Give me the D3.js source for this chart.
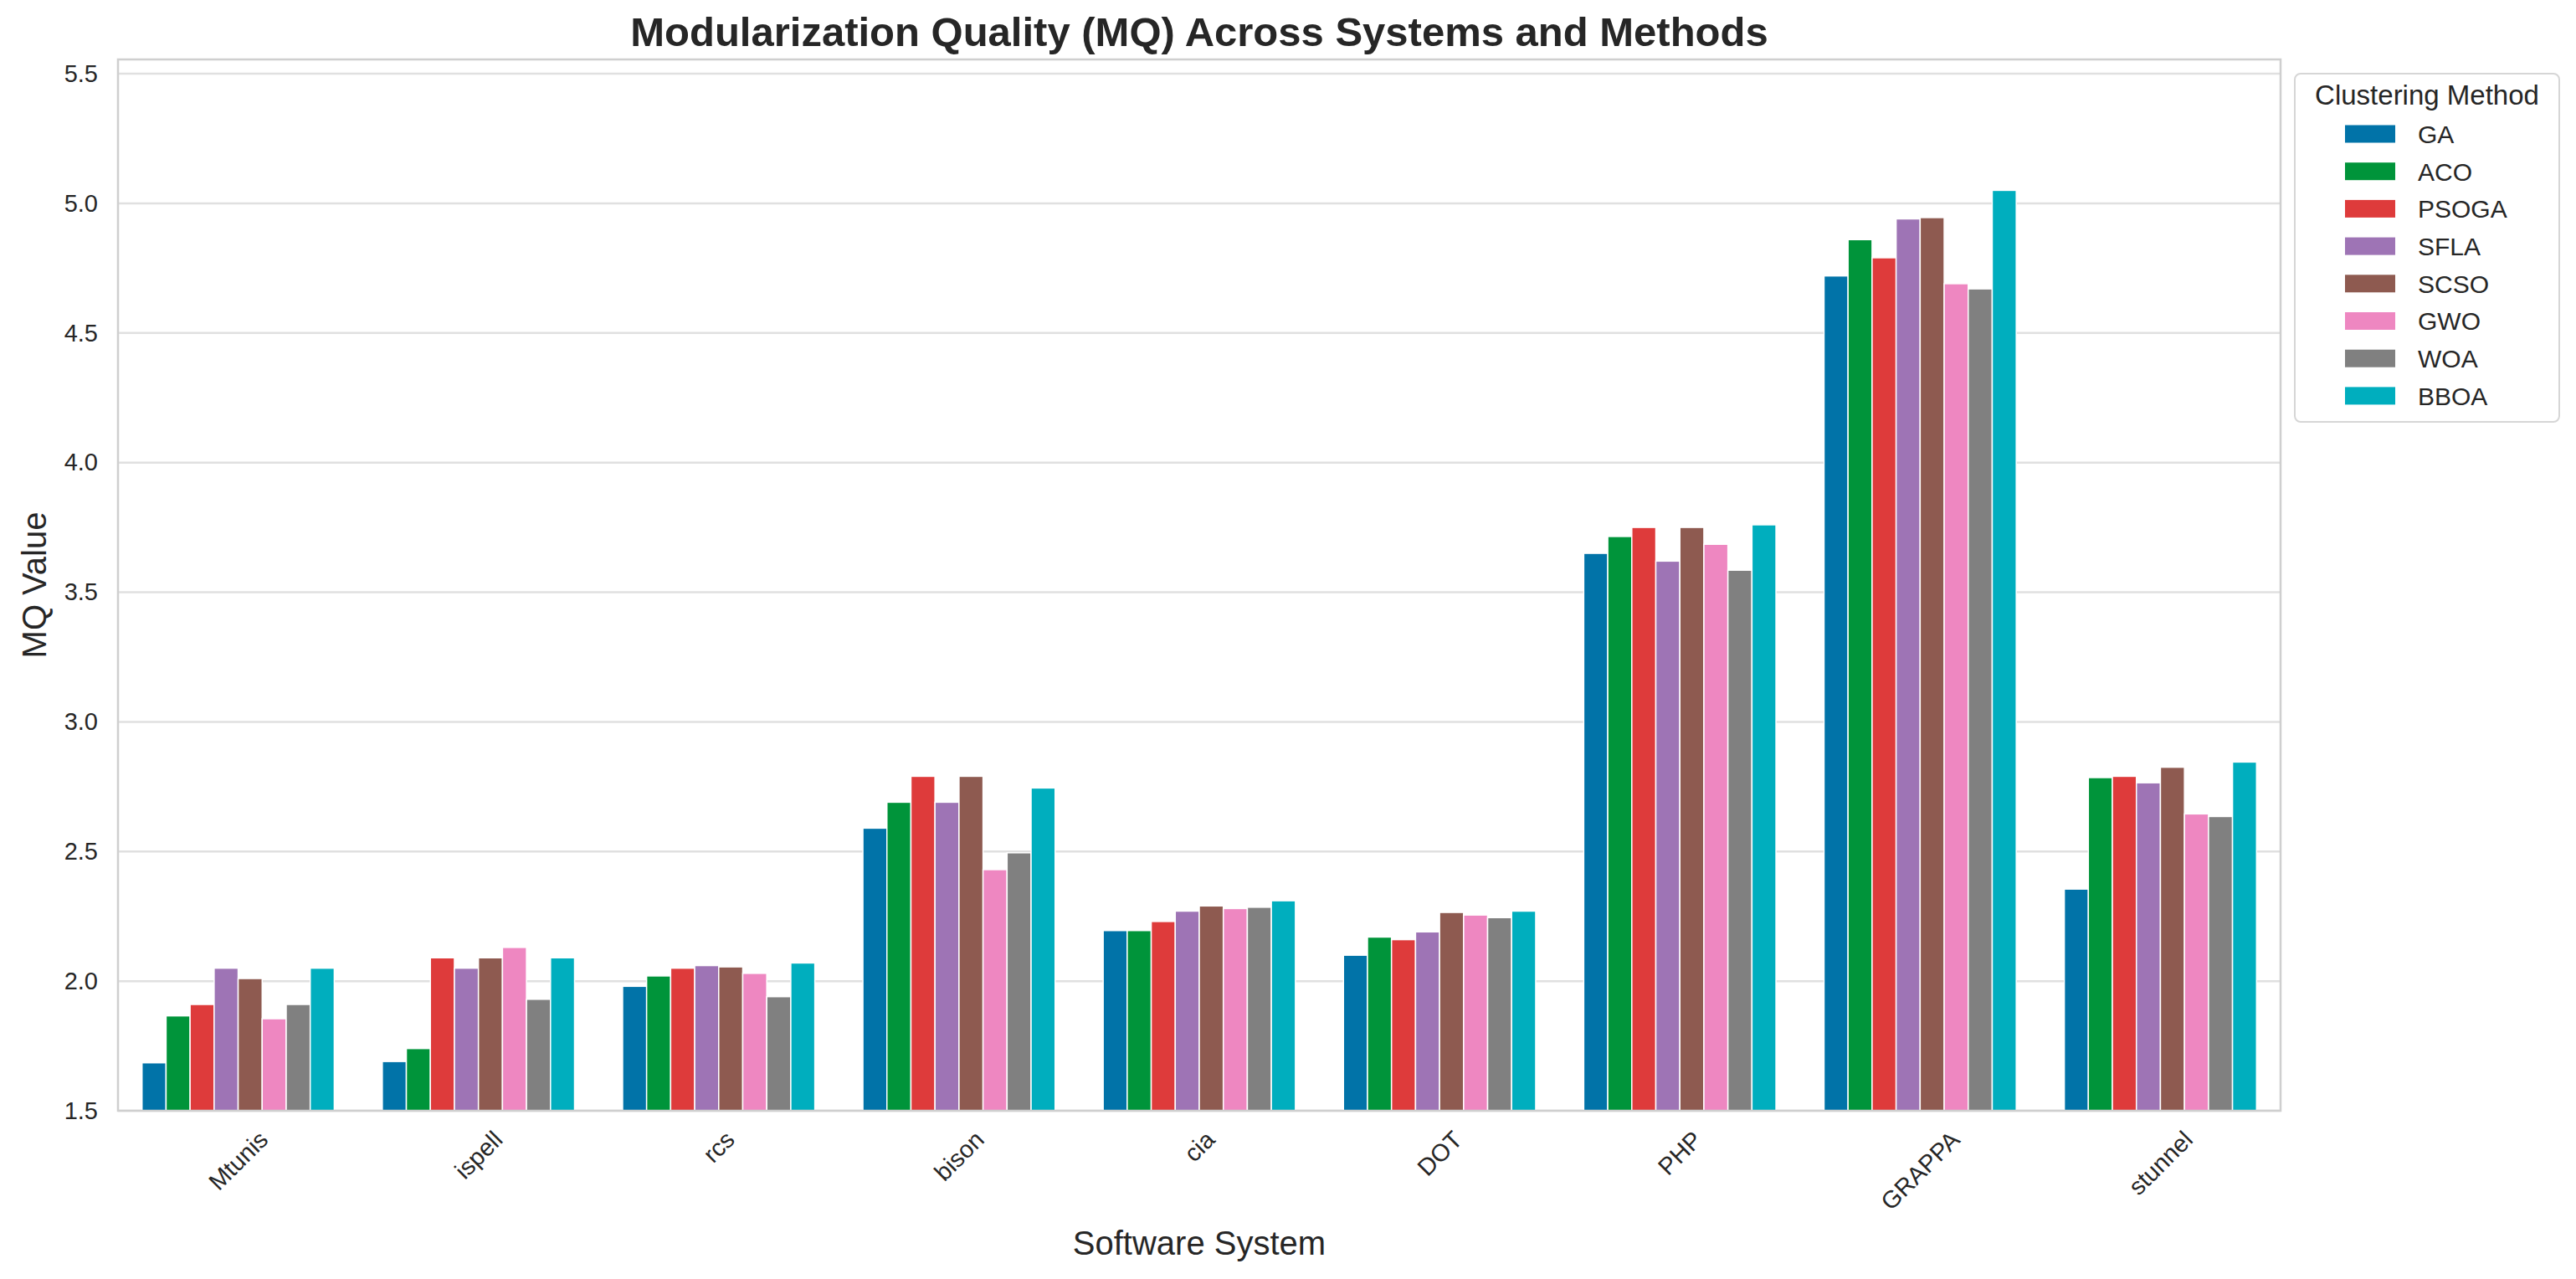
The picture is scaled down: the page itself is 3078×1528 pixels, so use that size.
<!DOCTYPE html>
<html>
<head>
<meta charset="utf-8">
<script src="https://cdn.jsdelivr.net/npm/d3@7"></script>
<style>
  body { margin: 0; background: #fff; }
  text { font-family: "Liberation Sans", Arial, sans-serif; fill: #262626; }
</style>
</head>
<body>
<svg id="chart"></svg>
<script>
const width = 3078, height = 1528;
const margin = { top: 71, right: 353, bottom: 201, left: 141 };
const plotWidth = width - margin.left - margin.right;
const plotHeight = height - margin.top - margin.bottom;

// Data
const systems = ["Mtunis", "ispell", "rcs", "bison", "cia", "DOT", "PHP", "GRAPPA", "stunnel"];
const methods = ["GA", "ACO", "PSOGA", "SFLA", "SCSO", "GWO", "WOA", "BBOA"];
const mqGA    = [1.685, 1.69, 1.98, 2.59, 2.195, 2.10, 3.65, 4.72, 2.355];
const mqACO   = [1.866, 1.74, 2.02, 2.69, 2.195, 2.17, 3.715, 4.86, 2.785];
const mqPSOGA = [1.91, 2.09, 2.05, 2.79, 2.23, 2.16, 3.75, 4.79, 2.79];
const mqSFLA  = [2.05, 2.05, 2.06, 2.69, 2.27, 2.19, 3.62, 4.94, 2.765];
const mqSCSO  = [2.01, 2.09, 2.055, 2.79, 2.29, 2.265, 3.75, 4.945, 2.825];
const mqGWO   = [1.855, 2.13, 2.03, 2.43, 2.28, 2.255, 3.685, 4.69, 2.645];
const mqWOA   = [1.91, 1.93, 1.94, 2.495, 2.285, 2.245, 3.585, 4.67, 2.635];
const mqBBOA  = [2.05, 2.09, 2.07, 2.745, 2.31, 2.27, 3.76, 5.05, 2.845];
const yTicks = [1.5, 2.0, 2.5, 3.0, 3.5, 4.0, 4.5, 5.0, 5.5];
const yDomain = [1.5, 5.555];

const seriesByMethod = [mqGA, mqACO, mqPSOGA, mqSFLA, mqSCSO, mqGWO, mqWOA, mqBBOA];
const palette = ["#0173a8", "#00943a", "#de3b3b", "#9e74b5", "#8e5a50", "#ee87c1", "#808080", "#00aebe"];

// flat table for the bars
const rows = [];
systems.forEach((s, i) => {
    methods.forEach((m, j) => rows.push({ system: s, method: m, value: seriesByMethod[j][i] }));
});

const svg = d3.select("#chart")
    .attr("width", width)
    .attr("height", height)
    .attr("viewBox", [0, 0, width, height]);

svg.append("rect").attr("width", width).attr("height", height).attr("fill", "#fff");

const g = svg.append("g")
    .attr("transform", `translate(${margin.left},${margin.top})`);

// Scales
const xScale = d3.scaleBand().domain(systems).range([0, plotWidth]).padding(0);
const xInner = d3.scaleBand().domain(methods)
    .range([xScale.bandwidth() * 0.1, xScale.bandwidth() * 0.9]).padding(0);
const yScale = d3.scaleLinear().domain(yDomain).range([plotHeight, 0]);
const color = d3.scaleOrdinal().domain(methods).range(palette);

// Gridlines
g.append("g")
    .attr("class", "grid")
    .selectAll("line")
    .data(yTicks)
    .enter()
    .append("line")
    .attr("x1", 0)
    .attr("x2", plotWidth)
    .attr("y1", d => yScale(d))
    .attr("y2", d => yScale(d))
    .attr("stroke", "#e0e0e0")
    .attr("stroke-width", 2.5);

// Bars
g.append("g")
    .selectAll("rect")
    .data(rows)
    .enter()
    .append("rect")
    .attr("x", d => xScale(d.system) + xInner(d.method))
    .attr("y", d => yScale(d.value))
    .attr("width", xInner.bandwidth())
    .attr("height", d => yScale(yDomain[0]) - yScale(d.value))
    .attr("fill", d => color(d.method))
    .attr("stroke", "#fff")
    .attr("stroke-width", 1.5);

// Frame
g.append("rect")
    .attr("width", plotWidth)
    .attr("height", plotHeight)
    .attr("fill", "none")
    .attr("stroke", "#cfcfcf")
    .attr("stroke-width", 2.5);

// Y axis
const yAxis = g.append("g")
    .call(d3.axisLeft(yScale).tickValues(yTicks).tickFormat(d3.format(".1f")).tickSize(0).tickPadding(24));
yAxis.select(".domain").remove();
yAxis.selectAll("text")
    .style("font-family", "'Liberation Sans', Arial, sans-serif")
    .style("font-size", "29px")
    .attr("fill", "#262626");

// X axis with 45 degree labels
const xAxis = g.append("g")
    .attr("transform", `translate(0,${plotHeight})`)
    .call(d3.axisBottom(xScale).tickSize(0).tickPadding(0));
xAxis.select(".domain").remove();
xAxis.selectAll("text")
    .style("font-family", "'Liberation Sans', Arial, sans-serif")
    .style("font-size", "29px")
    .attr("fill", "#262626")
    .attr("text-anchor", "middle")
    .attr("y", 0)
    .attr("dy", "0.35em")
    .attr("transform", function() {
        const w = this.getComputedTextLength();
        const hRot = (w + 29 * 1.1) * Math.SQRT1_2;
        return `translate(0,${18 + hRot / 2}) rotate(-45)`;
    });

// Axis labels
svg.append("text")
    .attr("x", margin.left + plotWidth / 2)
    .attr("y", 1499)
    .attr("text-anchor", "middle")
    .style("font-size", "40px")
    .text("Software System");

svg.append("text")
    .attr("transform", `translate(41,${margin.top + plotHeight / 2}) rotate(-90)`)
    .attr("text-anchor", "middle")
    .attr("dy", "0.35em")
    .style("font-size", "40px")
    .text("MQ Value");

// Title
svg.append("text")
    .attr("x", margin.left + plotWidth / 2)
    .attr("y", 55)
    .attr("text-anchor", "middle")
    .style("font-size", "49px")
    .style("font-weight", "bold")
    .text("Modularization Quality (MQ) Across Systems and Methods");

// Legend
const legend = svg.append("g").attr("transform", "translate(2742,88)");
legend.append("rect")
    .attr("width", 316)
    .attr("height", 416)
    .attr("rx", 7)
    .attr("fill", "#fff")
    .attr("stroke", "#d6d6d6")
    .attr("stroke-width", 2);
legend.append("text")
    .attr("x", 158)
    .attr("y", 37)
    .attr("text-anchor", "middle")
    .style("font-size", "33px")
    .text("Clustering Method");

const entries = legend.selectAll(".entry")
    .data(methods)
    .enter()
    .append("g")
    .attr("class", "entry")
    .attr("transform", (d, i) => `translate(0,${72 + i * 44.7})`);
entries.append("rect")
    .attr("x", 60)
    .attr("y", -10.5)
    .attr("width", 60)
    .attr("height", 21)
    .attr("fill", d => color(d));
entries.append("text")
    .attr("x", 147)
    .attr("dy", "0.36em")
    .style("font-size", "30px")
    .text(d => d);
</script>
</body>
</html>
